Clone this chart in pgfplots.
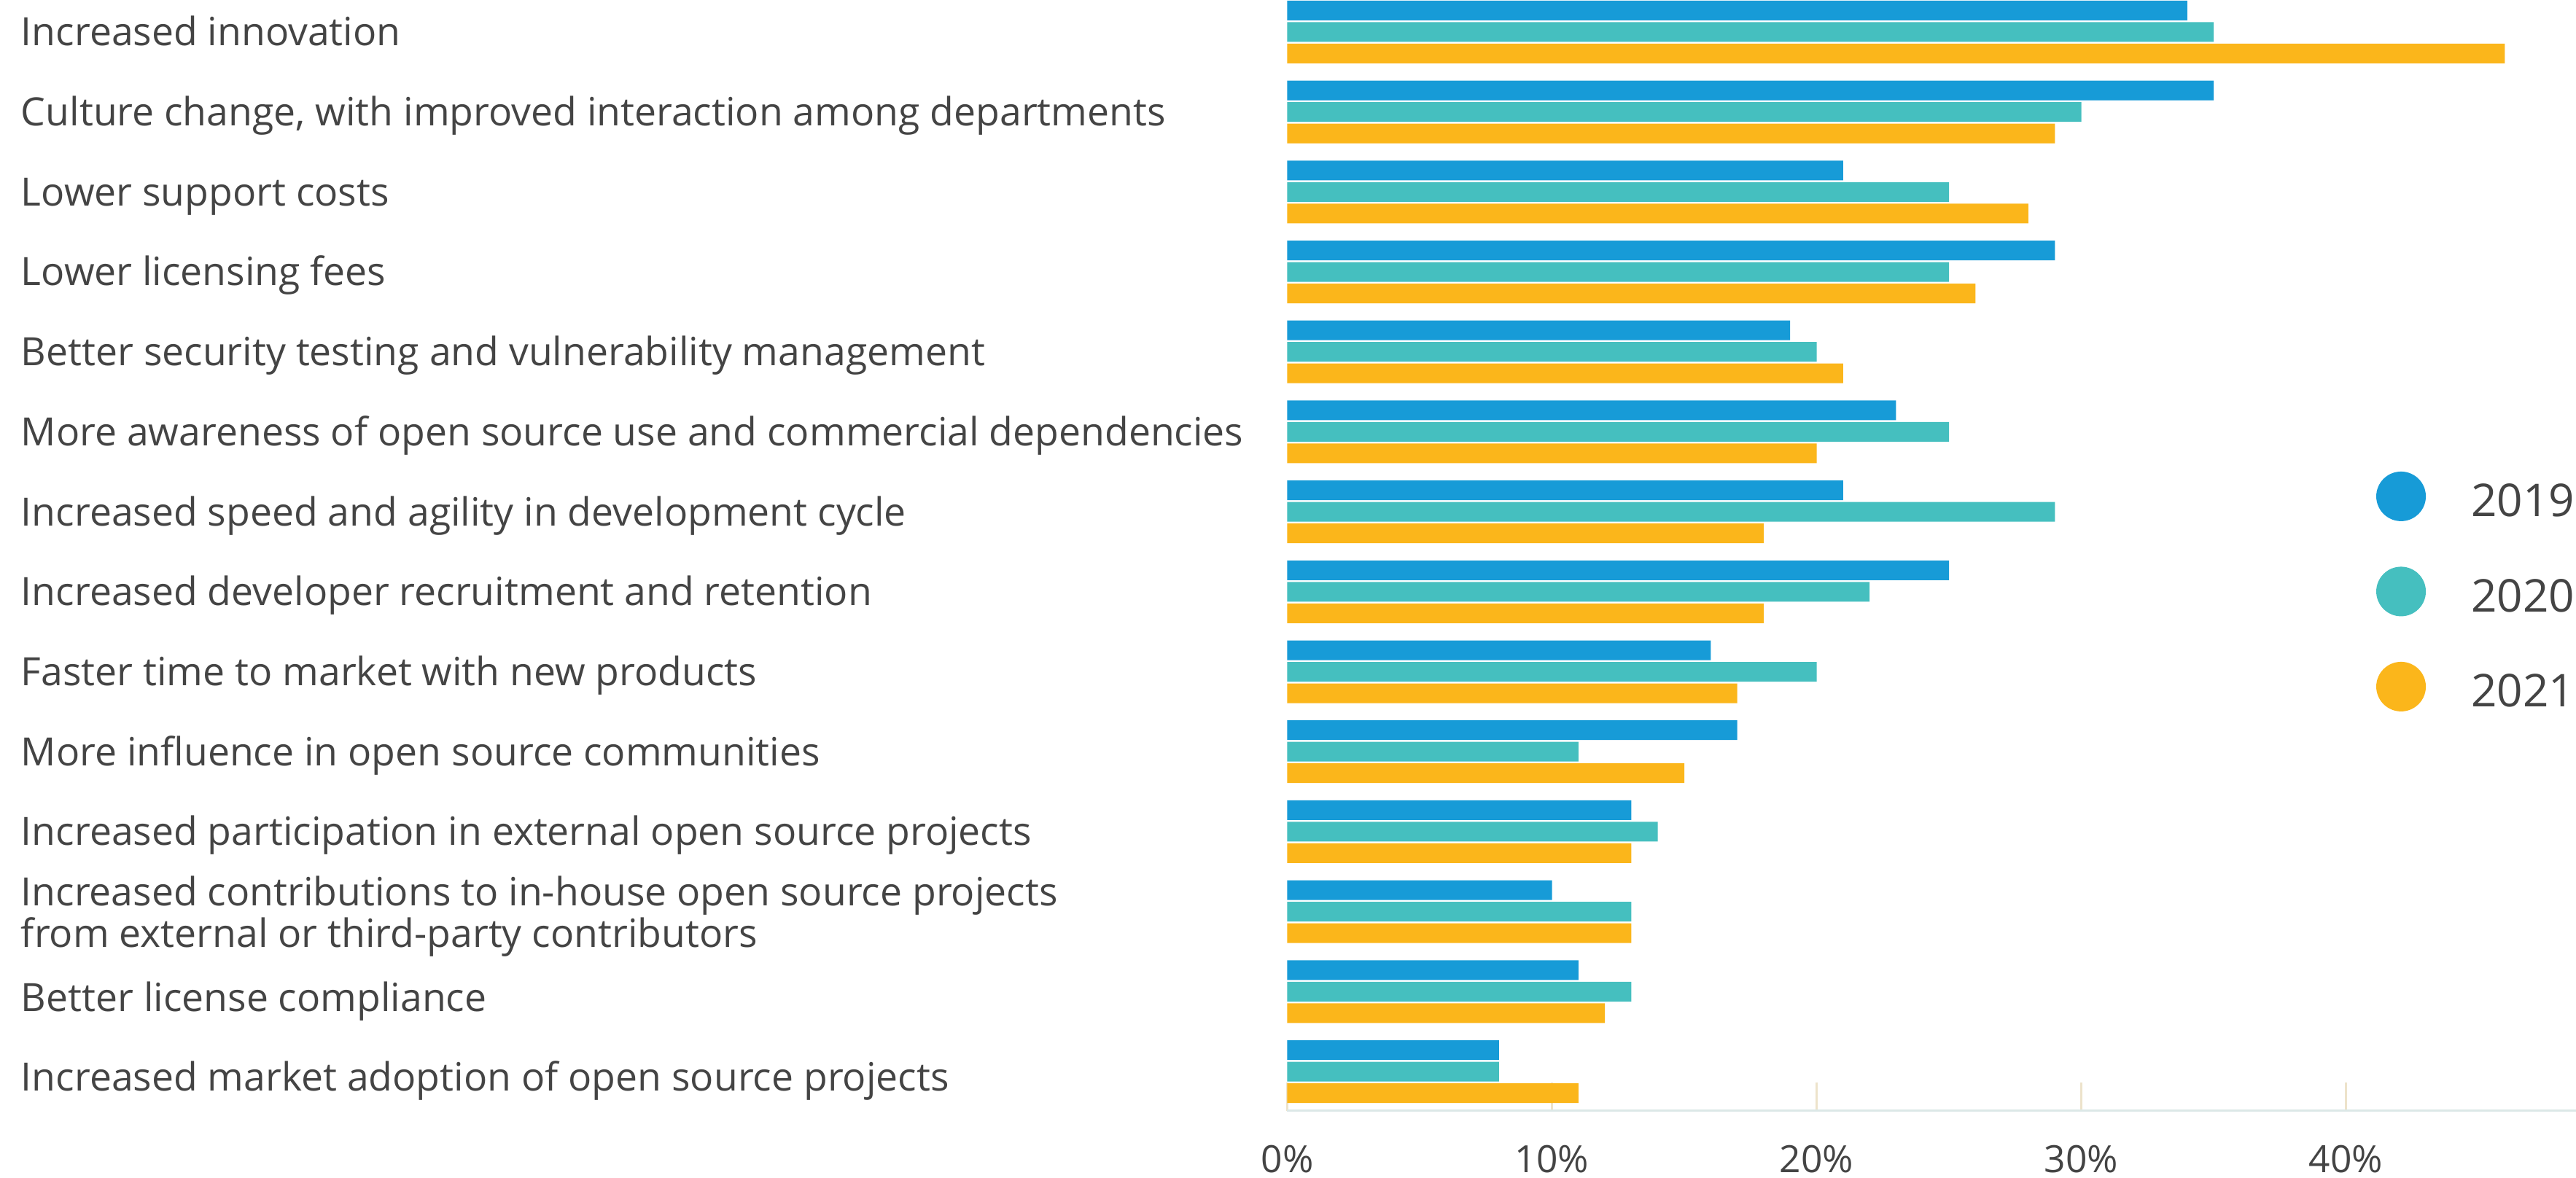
\documentclass[border=0pt]{standalone}
\usepackage{pgfplots}
\pgfplotsset{compat=1.18}
\usepackage{fontspec}
\setmainfont{Open Sans}
\definecolor{c2019}{HTML}{179BD7}
\definecolor{c2020}{HTML}{45BFBF}
\definecolor{c2021}{HTML}{FBB61B}
\definecolor{txtgray}{HTML}{444444}
\definecolor{axgray}{HTML}{DCE8E7}
\definecolor{tickbeige}{HTML}{EDE3CB}
\begin{document}
\begin{tikzpicture}
\useasboundingbox (0,0) rectangle (706.6pt,323.2pt);
\begin{axis}[
  at={(353.1pt,18.4pt)}, anchor=south west,
  scale only axis, width=353.5pt, height=304.8pt,
  xmin=0, xmax=48.69, ymin=-0.492, ymax=13.401,
  axis x line*=bottom, axis y line*=left,
  x axis line style={draw=axgray, line width=0.6pt},
  y axis line style={draw=none},
  xtick={0,10,20,30,40},
  xticklabels={0\%,10\%,20\%,30\%,40\%},
  tick align=inside, major tick length=7.8pt,
  xtick style={draw=tickbeige, line width=0.5pt},
  ytick style={draw=none},
  xticklabel style={anchor=base, inner sep=0pt, yshift=-17pt, text=txtgray, font=\fontsize{10.3pt}{12pt}\selectfont},
  ytick={0,...,13},
  yticklabels={
    {\raisebox{-1.5pt}{Increased market adoption of open source projects}},
    {\raisebox{-1.6pt}{Better license compliance}},
    {\raisebox{5.5pt}{\begin{tabular}[t]{@{}l@{}}Increased contributions to in-house open source projects\\from external or third-party contributors\end{tabular}}},
    Increased participation in external open source projects,
    More influence in open source communities,
    Faster time to market with new products,
    Increased developer recruitment and retention,
    Increased speed and agility in development cycle,
    More awareness of open source use and commercial dependencies,
    Better security testing and vulnerability management,
    Lower licensing fees,
    Lower support costs,
    {Culture change, with improved interaction among departments},
    Increased innovation},
  yticklabel style={anchor=base west, inner sep=0pt, xshift=-347.5pt, yshift=-3.78pt, text=txtgray, font=\fontsize{10.7pt}{11pt}\selectfont},
  legend style={at={(0.845,0.5755)}, anchor=north west, draw=none, fill=none,
    inner sep=0pt, outer sep=0pt, row sep=12.2pt, column sep=12.4pt,
    font=\fontsize{12.4pt}{14pt}\selectfont, text=txtgray,
    nodes={inner sep=0pt, anchor=base west}},
  legend cell align=left,
]
\addplot[xbar, bar width=5.4pt, bar shift=5.9pt, draw=none, fill=c2019, forget plot] coordinates {
  (34,13) (35,12) (21,11) (29,10) (19,9) (23,8) (21,7) (25,6) (16,5) (17,4) (13,3) (10,2) (11,1) (8,0)};
\addplot[xbar, bar width=5.4pt, bar shift=0pt, draw=none, fill=c2020, forget plot] coordinates {
  (35,13) (30,12) (25,11) (25,10) (20,9) (25,8) (29,7) (22,6) (20,5) (11,4) (14,3) (13,2) (13,1) (8,0)};
\addplot[xbar, bar width=5.4pt, bar shift=-5.9pt, draw=none, fill=c2021, forget plot] coordinates {
  (46,13) (29,12) (28,11) (26,10) (21,9) (20,8) (18,7) (18,6) (17,5) (15,4) (13,3) (13,2) (12,1) (11,0)};
\addlegendimage{legend image code/.code={\fill[c2019] (6.6pt,5.6pt) circle (6.6pt);}}
\addlegendentry{2019}
\addlegendimage{legend image code/.code={\fill[c2020] (6.6pt,5.6pt) circle (6.6pt);}}
\addlegendentry{2020}
\addlegendimage{legend image code/.code={\fill[c2021] (6.6pt,5.6pt) circle (6.6pt);}}
\addlegendentry{2021}
\end{axis}
\end{tikzpicture}
\end{document}
